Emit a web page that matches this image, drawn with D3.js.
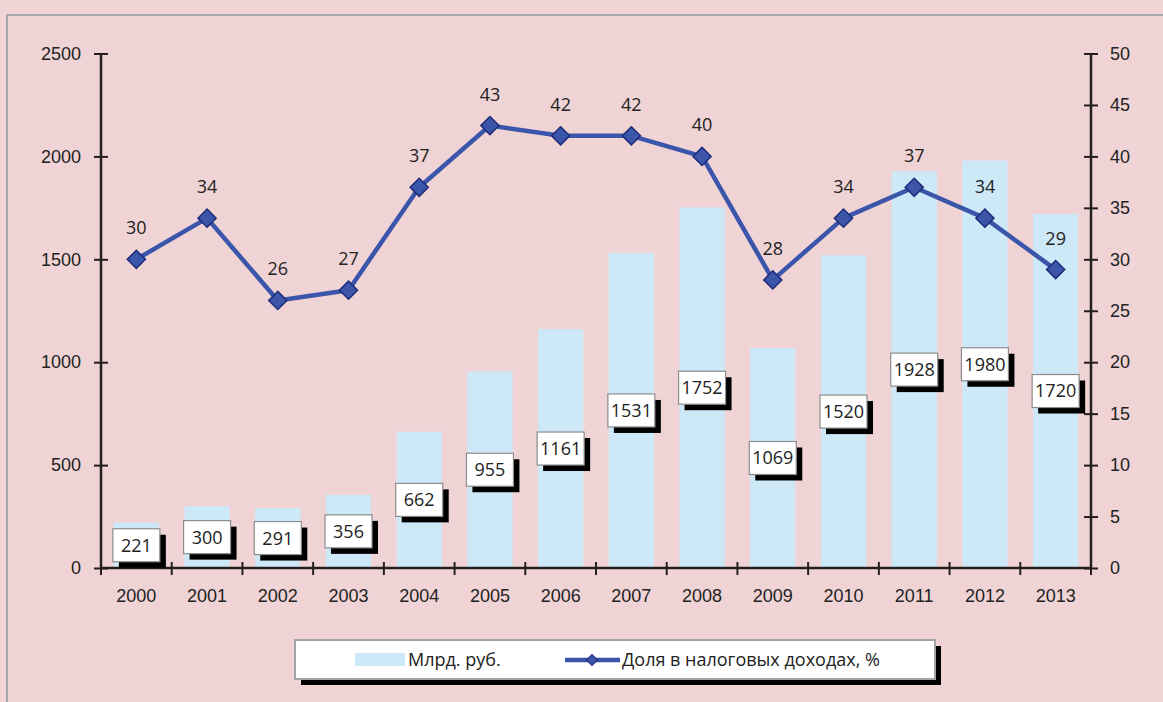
<!DOCTYPE html>
<html lang="ru">
<head>
<meta charset="UTF-8"/>
<script src="https://d3js.org/d3.v7.min.js"></script>
<style>
body { margin: 0; background: #f0d4d5; font-family: 'Open Sans', sans-serif; }
svg { display: block; }
text { fill: #222; font-size: 18px; }
.axis path, .axis line { stroke: #231f20; stroke-width: 2; }
.axis .domain { stroke-width: 2.5; }
</style>
</head>
<body>
<svg width="1163" height="702"></svg>
<script>
const years = ['2000','2001','2002','2003','2004','2005','2006','2007','2008','2009','2010','2011','2012','2013'];
const billions = [221, 300, 291, 356, 662, 955, 1161, 1531, 1752, 1069, 1520, 1928, 1980, 1720];
const share = [30, 34, 26, 27, 37, 43, 42, 42, 40, 28, 34, 37, 34, 29];
const leftTicks = [0, 500, 1000, 1500, 2000, 2500];
const rightTicks = [0, 5, 10, 15, 20, 25, 30, 35, 40, 45, 50];

const svg = d3.select('svg');
const margin = {left: 101, right: 72, top: 53.5, bottom: 134};
const width = 1163 - margin.left - margin.right;
const height = 702 - margin.top - margin.bottom;

// outer frame (runs off the picture on the right and bottom)
svg.append('rect')
  .attr('x', 7).attr('y', 15)
  .attr('width', 1200).attr('height', 800)
  .attr('fill', 'none').attr('stroke', '#a7a7a9').attr('stroke-width', 2);

const chart = svg.append('g').attr('transform', `translate(${margin.left},${margin.top})`);

const x = d3.scaleBand().domain(years).range([0, width]).paddingInner(0.36).paddingOuter(0.18);
const yL = d3.scaleLinear().domain([0, 2500]).range([height, 0]);
const yR = d3.scaleLinear().domain([0, 50]).range([height, 0]);

// bars
chart.selectAll('rect.bar').data(billions).join('rect')
  .attr('class', 'bar')
  .attr('x', (d, i) => x(years[i]))
  .attr('y', d => yL(d))
  .attr('width', x.bandwidth())
  .attr('height', d => height - yL(d))
  .attr('fill', '#cde9f8');

// axes
function crossTicks(g, len) {
  g.selectAll('.tick line').attr('x1', -len).attr('x2', len);
  g.selectAll('.tick text').style('font-size', '18px').attr('fill', '#222');
}
const gL = chart.append('g').attr('class', 'axis')
  .call(d3.axisLeft(yL).tickValues(leftTicks).tickFormat(d3.format('d')).tickSize(7).tickPadding(13));
crossTicks(gL, 7);
gL.select('.domain').attr('d', `M0,${height}V0`);

const gR = chart.append('g').attr('class', 'axis').attr('transform', `translate(${width},0)`)
  .call(d3.axisRight(yR).tickValues(rightTicks).tickSize(7).tickPadding(12));
crossTicks(gR, 7);
gR.select('.domain').attr('d', `M0,${height}V0`);

const gX = chart.append('g').attr('class', 'axis').attr('transform', `translate(0,${height})`)
  .call(d3.axisBottom(x).tickSize(0).tickPadding(21));
gX.select('.domain').attr('d', `M0,0H${width}`);
gX.selectAll('.tick text').style('font-size', '18px').attr('fill', '#222');
gX.selectAll('line.bound').data(d3.range(years.length + 1)).join('line')
  .attr('class', 'bound')
  .attr('x1', i => i * x.step()).attr('x2', i => i * x.step())
  .attr('y1', -6).attr('y2', 7)
  .attr('stroke', '#231f20').attr('stroke-width', 2);

// value boxes on bars
const boxW = 47, boxH = 33;
const boxes = chart.selectAll('g.vbox').data(billions).join('g')
  .attr('class', 'vbox')
  .attr('transform', (d, i) => `translate(${x(years[i]) + x.bandwidth() / 2},${(yL(d) + height) / 2})`);
boxes.append('rect')
  .attr('x', -boxW / 2 + 6).attr('y', -boxH / 2 + 6)
  .attr('width', boxW).attr('height', boxH).attr('fill', '#000');
boxes.append('rect')
  .attr('x', -boxW / 2).attr('y', -boxH / 2)
  .attr('width', boxW).attr('height', boxH)
  .attr('fill', '#fff').attr('stroke', '#8c8c8c').attr('stroke-width', 1.2);
boxes.append('text')
  .attr('text-anchor', 'middle').attr('dy', '0.36em')
  .text(d => d);

// share line
const line = d3.line()
  .x((d, i) => x(years[i]) + x.bandwidth() / 2)
  .y(d => yR(d));
chart.append('path').datum(share)
  .attr('d', line).attr('fill', 'none')
  .attr('stroke', '#3a55aa').attr('stroke-width', 4.5).attr('stroke-linejoin', 'round');

const diamond = d3.symbol().type(d3.symbolSquare).size(165);
chart.selectAll('path.mark').data(share).join('path')
  .attr('class', 'mark')
  .attr('d', diamond)
  .attr('transform', (d, i) => `translate(${x(years[i]) + x.bandwidth() / 2},${yR(d)}) rotate(45)`)
  .attr('fill', '#3b55a9').attr('stroke', '#1f2c7a').attr('stroke-width', 1.5);

chart.selectAll('text.share').data(share).join('text')
  .attr('class', 'share')
  .attr('x', (d, i) => x(years[i]) + x.bandwidth() / 2)
  .attr('y', d => yR(d) - 25)
  .attr('text-anchor', 'middle')
  .text(d => d);

// legend
const legend = svg.append('g').attr('transform', 'translate(295,640)');
legend.append('rect').attr('x', 6).attr('y', 6).attr('width', 640).attr('height', 39).attr('fill', '#000');
legend.append('rect').attr('width', 640).attr('height', 39)
  .attr('fill', '#fff').attr('stroke', '#a3a3a5').attr('stroke-width', 2);
legend.append('rect').attr('x', 60).attr('y', 13).attr('width', 50).attr('height', 13).attr('fill', '#cde9f8');
legend.append('text').attr('x', 113).attr('y', 20).attr('dy', '0.36em').text('Млрд. руб.');
legend.append('line').attr('x1', 270).attr('x2', 325).attr('y1', 20).attr('y2', 20)
  .attr('stroke', '#3a55aa').attr('stroke-width', 4.5);
legend.append('path').attr('d', d3.symbol().type(d3.symbolSquare).size(60))
  .attr('transform', 'translate(297,20) rotate(45)')
  .attr('fill', '#3b55a9').attr('stroke', '#1f2c7a').attr('stroke-width', 1);
legend.append('text').attr('x', 327).attr('y', 20).attr('dy', '0.36em').text('Доля в налоговых доходах, %');
</script>
</body>
</html>
